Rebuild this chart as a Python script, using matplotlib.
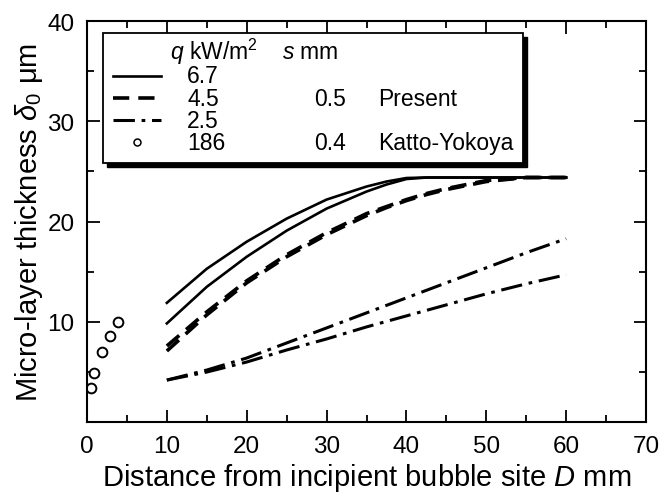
import matplotlib
matplotlib.use("Agg")
import matplotlib.pyplot as plt
from matplotlib.patches import Rectangle
from matplotlib.lines import Line2D
from matplotlib.ticker import MultipleLocator
from matplotlib.transforms import ScaledTranslation

plt.rcParams["font.family"] = ["Liberation Sans", "DejaVu Sans"]
plt.rcParams["mathtext.fontset"] = "custom"
plt.rcParams["mathtext.rm"] = "Liberation Sans"
plt.rcParams["mathtext.it"] = "Liberation Sans:italic"

# Present calculation (s = 0.5 mm), D in mm, delta0 in um
d_curve = [10, 15, 20, 25, 30, 35, 37.5, 40, 42.5, 45, 50, 55, 60]
q67_a = [11.9, 15.3, 18.0, 20.3, 22.2, 23.5, 24.0, 24.35, 24.4, 24.4, 24.4, 24.4, 24.4]
q67_b = [9.85, 13.5, 16.5, 19.1, 21.3, 23.0, 23.7, 24.25, 24.4, 24.4, 24.4, 24.4, 24.4]
q45_a = [7.6, 11.0, 14.1, 16.7, 18.9, 20.8, 21.5, 22.2, 22.8, 23.3, 24.1, 24.4, 24.4]
q45_b = [7.1, 10.7, 13.9, 16.5, 18.7, 20.6, 21.4, 22.1, 22.7, 23.2, 24.0, 24.4, 24.4]
q25_a = [4.2, 5.2, 6.4, 7.9, 9.4, 10.9, 11.65, 12.4, 13.15, 13.9, 15.4, 16.9, 18.3]
q25_b = [4.2, 5.0, 6.0, 7.2, 8.3, 9.5, 10.05, 10.6, 11.15, 11.7, 12.8, 13.8, 14.7]

# Katto-Yokoya data (q = 186 kW/m2, s = 0.4 mm)
d_ky = [0.45, 0.85, 1.9, 2.85, 3.9]
delta_ky = [3.45, 4.9, 7.0, 8.6, 9.95]

SOLID = dict(color="black", lw=1.9, ls="-")
DASHED = dict(color="black", lw=2.6, ls=(0, (4.5, 2.5)))
DASHDOT = dict(color="black", lw=2.2, ls=(0, (7, 2.2, 1.2, 2.2)))

fig = plt.figure(figsize=(6.64, 5.02), dpi=100)
ax = fig.add_axes([0.131, 0.157, 0.842, 0.799])

ax.plot(d_curve, q67_a, **SOLID)
ax.plot(d_curve, q67_b, **SOLID)
ax.plot(d_curve, q45_a, **DASHED)
ax.plot(d_curve, q45_b, **DASHED)
ax.plot(d_curve, q25_a, **DASHDOT)
ax.plot(d_curve, q25_b, **DASHDOT)
ax.plot(d_ky, delta_ky, "o", ms=7, mfc="white", mec="black", mew=1.4,
        ls="none")

ax.set_xlim(0, 70)
ax.set_ylim(0, 40)
ax.xaxis.set_major_locator(MultipleLocator(10))
ax.xaxis.set_minor_locator(MultipleLocator(5))
ax.yaxis.set_minor_locator(MultipleLocator(5))
ax.set_yticks([10, 20, 30, 40])
ax.tick_params(which="both", direction="in", top=True, right=True,
               width=1.3, labelsize=17.5)
ax.tick_params(which="major", length=9, pad=9)
ax.tick_params(which="minor", length=5)
for sp in ax.spines.values():
    sp.set_linewidth(1.5)

ax.set_xlabel("Distance from incipient bubble site $D$ mm", fontsize=21,
              labelpad=3)
ax.set_ylabel(r"Micro-layer thickness $\delta_0$ μm", fontsize=21,
              labelpad=2)

# legend box with shadow
bx0, bx1, by0, by1 = 0.028, 0.780, 0.646, 0.970
ax.add_patch(Rectangle((bx0 + 0.007, by0 - 0.010), bx1 - bx0, by1 - by0,
                       transform=ax.transAxes, facecolor="black",
                       edgecolor="black", zorder=5, clip_on=False))
ax.add_patch(Rectangle((bx0, by0), bx1 - bx0, by1 - by0,
                       transform=ax.transAxes, facecolor="white",
                       edgecolor="black", lw=1.3, zorder=6, clip_on=False))

rows_y = [0.864, 0.808, 0.753, 0.698]
styles = [SOLID, DASHED, DASHDOT]
q_labels = ["6.7", "4.5", "2.5", "186"]
fs = 16.5
for y, st in zip(rows_y[:3], styles):
    ax.add_line(Line2D([0.046, 0.132], [y, y], transform=ax.transAxes,
                       zorder=7, **st))
ax.plot([0.089], [rows_y[3]], "o", ms=5, mfc="white", mec="black", mew=1.1,
        transform=ax.transAxes, zorder=7, clip_on=False)
txt = dict(transform=ax.transAxes, fontsize=fs, va="center", zorder=8)
ax.text(0.148, 0.925, "$q$ kW/m$^2$", **txt)
ax.text(0.348, 0.925, "$s$ mm", **txt)
for y, lab in zip(rows_y, q_labels):
    ax.text(0.179, y, lab, **txt)
ax.text(0.406, rows_y[1], "0.5", **txt)
ax.text(0.520, rows_y[1], "Present", **txt)
ax.text(0.406, rows_y[3], "0.4", **txt)
ax.text(0.520, rows_y[3], "Katto-Yokoya", **txt)

# the "0" label sits a little left of the axis in the original
fig.canvas.draw()
tick0 = ax.xaxis.get_major_ticks()[0]
tick0.label1.set_transform(tick0.label1.get_transform()
                           + ScaledTranslation(-8 / 100, 0,
                                               fig.dpi_scale_trans))

fig.savefig("out.png", dpi=100)
